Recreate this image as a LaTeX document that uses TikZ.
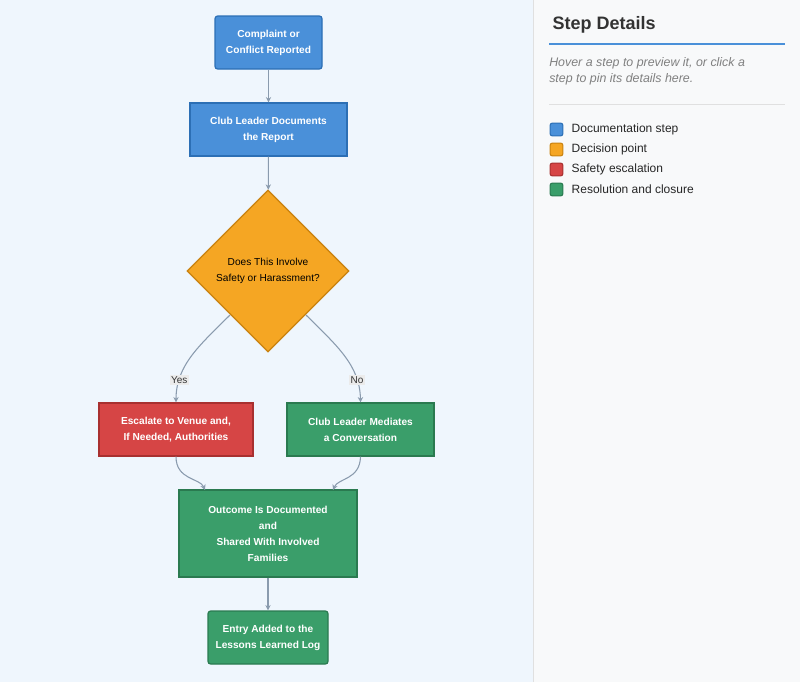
\documentclass[tikz,border=0pt]{standalone}
\usepackage{fontspec}
\setmainfont{Liberation Sans}
\usetikzlibrary{shapes.geometric,arrows.meta}
\definecolor{cblue}{HTML}{4A90D9}\definecolor{cblueb}{HTML}{2C6FB5}
\definecolor{corange}{HTML}{F5A623}\definecolor{coranb}{HTML}{C98210}
\definecolor{cred}{HTML}{D64545}\definecolor{credb}{HTML}{A83030}
\definecolor{cgreen}{HTML}{3A9E6A}\definecolor{cgreenb}{HTML}{2A7A50}
\definecolor{edge}{HTML}{8A9BAE}
\definecolor{leftbg}{HTML}{EFF6FD}\definecolor{rightbg}{HTML}{F8F9FA}
\tikzset{
 box/.style={rectangle,draw,line width=0.9pt,text=white,font=\fontsize{7.6}{12}\selectfont\bfseries,align=center,inner sep=0pt},
 bl/.style={box,fill=cblue,draw=cblueb},
 gr/.style={box,fill=cgreen,draw=cgreenb},
 rd/.style={box,fill=cred,draw=credb},
 conn/.style={draw=edge,line width=0.8pt,-{Stealth[length=4pt,width=4pt]}},
 lab/.style={fill=black!8,font=\fontsize{7.5}{9}\selectfont,inner sep=1pt,text=black!80},
 leg/.style={rectangle,draw,line width=0.8pt,minimum size=9.5pt,inner sep=0pt,rounded corners=1.5pt},
 legt/.style={anchor=west,font=\fontsize{9}{11}\selectfont,text=black!85}
}
\begin{document}
\begin{tikzpicture}[x=0.75pt,y=-0.75pt]
\useasboundingbox (0,0) rectangle (800,682);
\fill[leftbg] (0,0) rectangle (533,682);
\fill[rightbg] (533,0) rectangle (800,682);
\draw[black!12] (533.5,0) -- (533.5,682);
\node[bl,rounded corners=2pt,minimum width=107*0.75pt,minimum height=53*0.75pt] (a) at (268.5,42.5) {Complaint or\\Conflict Reported};
\node[bl,minimum width=157*0.75pt,minimum height=53*0.75pt] (b) at (268.5,129.5) {Club Leader Documents\\the Report};
\node[diamond,draw=coranb,fill=corange,line width=0.9pt,minimum width=162*0.75pt,minimum height=162*0.75pt,inner sep=0pt,font=\fontsize{7.6}{12}\selectfont,align=center] (c) at (268,271) {Does This Involve\\Safety or Harassment?};
\node[rd,minimum width=154*0.75pt,minimum height=53*0.75pt] (d) at (176,429.5) {Escalate to Venue and,\\If Needed, Authorities};
\node[gr,minimum width=147*0.75pt,minimum height=53*0.75pt] (e) at (360.5,429.5) {Club Leader Mediates\\a Conversation};
\node[gr,minimum width=178*0.75pt,minimum height=87*0.75pt] (f) at (268,533.5) {Outcome Is Documented\\and\\Shared With Involved\\Families};
\node[gr,rounded corners=2pt,minimum width=120*0.75pt,minimum height=53*0.75pt] (g) at (268,637.5) {Entry Added to the\\Lessons Learned Log};
\draw[conn] (a) -- (b);
\draw[conn] (b) -- (c);
\draw[conn] (230,315) .. controls (200,345) and (176,365) .. (d.north) node[lab,pos=0.78] {Yes};
\draw[conn] (306,315) .. controls (336,345) and (360,365) .. (e.north) node[lab,pos=0.78] {No};
\coordinate (fl) at (205,490);\coordinate (fr) at (333,490);
\draw[conn] (d.south) .. controls (176,480) and (200,478) .. (fl);
\draw[conn] (e.south) .. controls (360,480) and (338,478) .. (fr);
\draw[conn] (f) -- (g);
\node[anchor=west,font=\fontsize{13.5}{16}\selectfont\bfseries,text=black!80] (t) at (548,25) {Step Details};
\draw[cblue,line width=1.2pt] (549,44) -- (785,44);
\node[anchor=north west,align=left,font=\fontsize{9.3}{12}\selectfont\itshape,text=black!50,inner sep=0pt] (h) at (549,57) {Hover a step to preview it, or click a\\step to pin its details here.};
\draw[black!12] (549,104.5) -- (785,104.5);
\node[leg,fill=cblue,draw=cblueb] (l1) at (556.5,129.5) {};\node[legt] at (567,129.5) {Documentation step};
\node[leg,fill=corange,draw=coranb] (l2) at (556.5,149.5) {};\node[legt] at (567,149.5) {Decision point};
\node[leg,fill=cred,draw=credb] (l3) at (556.5,169.5) {};\node[legt] at (567,169.5) {Safety escalation};
\node[leg,fill=cgreen,draw=cgreenb] (l4) at (556.5,189.5) {};\node[legt] at (567,189.5) {Resolution and closure};
\end{tikzpicture}
\end{document}
